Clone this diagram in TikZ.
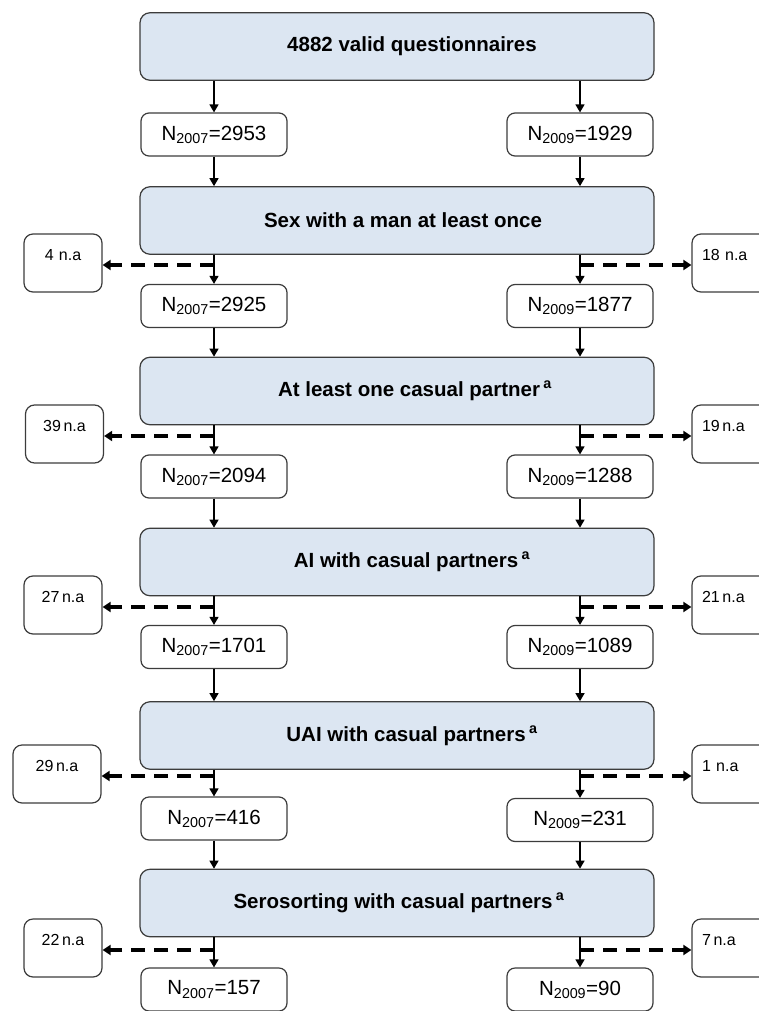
\documentclass[tikz,border=0pt]{standalone}
\usepackage{fontspec}
\setmainfont{Liberation Sans}
\usetikzlibrary{arrows.meta}
\definecolor{boxblue}{HTML}{DCE6F2}
\definecolor{edgegray}{HTML}{3C3C3C}

\begin{document}
\begin{tikzpicture}[x=1pt, y=-1pt,
    stage/.style={draw=edgegray, line width=1.2pt, fill=boxblue, rounded corners=10pt,
        minimum width=514pt, minimum height=67.5pt, inner sep=0pt,
        font=\fontsize{20.5}{24}\selectfont\bfseries},
    nudge/.style={execute at begin node={\hspace*{#1}}},
    count/.style={draw=edgegray, line width=1.2pt, fill=white, rounded corners=8pt,
        minimum width=146pt, minimum height=43pt, inner sep=0pt,
        font=\fontsize{20.5}{24}\selectfont},
    lost/.style={draw=edgegray, line width=1.2pt, fill=white, rounded corners=9pt,
        inner xsep=10pt, inner ysep=16pt, text height=10pt, text depth=16pt,
        text width=58pt, align=center, font=\fontsize{16}{18}\selectfont},
    flow/.style={line width=1.4pt, -{Triangle[length=8pt,width=9pt]}},
    drop/.style={line width=3.8pt, dash pattern=on 14pt off 9pt,
        -{Triangle[length=8pt,width=10pt]}}]
    \useasboundingbox (0,0) rectangle (759,1011);

    % stages
    \node[stage, nudge=30pt] (q0) at (397,46.5) {4882 valid questionnaires};
    \node[stage, nudge=12pt] (q1) at (397,220.5) {Sex with a man at least once};
    \node[stage, nudge=36pt] (q2) at (397,391) {At least one casual partner\,\textsuperscript{a}};
    \node[stage, nudge=30pt] (q3) at (397,562) {AI with casual partners\,\textsuperscript{a}};
    \node[stage, nudge=30pt] (q4) at (397,735.5) {UAI with casual partners\,\textsuperscript{a}};
    \node[stage, nudge=4pt] (q5) at (397,903) {Serosorting with casual partners\,\textsuperscript{a}};

    % counts 2007 / 2009
    \node[count] (l0) at (214,134.5) {N\textsubscript{2007}=2953};
    \node[count] (r0) at (580,134.5) {N\textsubscript{2009}=1929};
    \node[count] (l1) at (214,306) {N\textsubscript{2007}=2925};
    \node[count] (r1) at (580,306) {N\textsubscript{2009}=1877};
    \node[count] (l2) at (214,476.5) {N\textsubscript{2007}=2094};
    \node[count] (r2) at (580,476.5) {N\textsubscript{2009}=1288};
    \node[count] (l3) at (214,647) {N\textsubscript{2007}=1701};
    \node[count] (r3) at (580,647) {N\textsubscript{2009}=1089};
    \node[count] (l4) at (214,818.5) {N\textsubscript{2007}=416};
    \node[count] (r4) at (580,820) {N\textsubscript{2009}=231};
    \node[count] (l5) at (214,989.5) {N\textsubscript{2007}=157};
    \node[count] (r5) at (580,989.5) {N\textsubscript{2009}=90};

    % n.a boxes
    \node[lost] (nl1) at (63,263) {4 n.a};
    \node[lost, align=left] (nr1) at (731,263) {18 n.a};
    \node[lost] (nl2) at (64.5,434) {39\,n.a};
    \node[lost, align=left] (nr2) at (731,434) {19\,n.a};
    \node[lost] (nl3) at (63,605) {27\,n.a};
    \node[lost, align=left] (nr3) at (731,605) {21\,n.a};
    \node[lost, text width=68pt] (nl4) at (57,774) {29\,n.a};
    \node[lost, align=left] (nr4) at (731,774) {1 n.a};
    \node[lost] (nl5) at (63,948) {22\,n.a};
    \node[lost, align=left] (nr5) at (731,948) {7\,n.a};

    % dashed drop-outs
    \foreach \i in {1,...,5} {
        \draw[drop] ([yshift=-2pt]l\i.north |- nl\i.east) -- ([yshift=-2pt]nl\i.east);
        \draw[drop] ([yshift=-2pt]r\i.north |- nr\i.west) -- ([yshift=-2pt]nr\i.west);
    }

    % stage -> counts
    \foreach \i in {0,...,5} {
        \draw[flow] (l\i.north |- q\i.south) -- (l\i.north);
        \draw[flow] (r\i.north |- q\i.south) -- (r\i.north);
    }

    % counts -> next stage
    \foreach \i/\j in {0/1,1/2,2/3,3/4,4/5} {
        \draw[flow] (l\i.south) -- (l\i.south |- q\j.north);
        \draw[flow] (r\i.south) -- (r\i.south |- q\j.north);
    }
\end{tikzpicture}
\end{document}
